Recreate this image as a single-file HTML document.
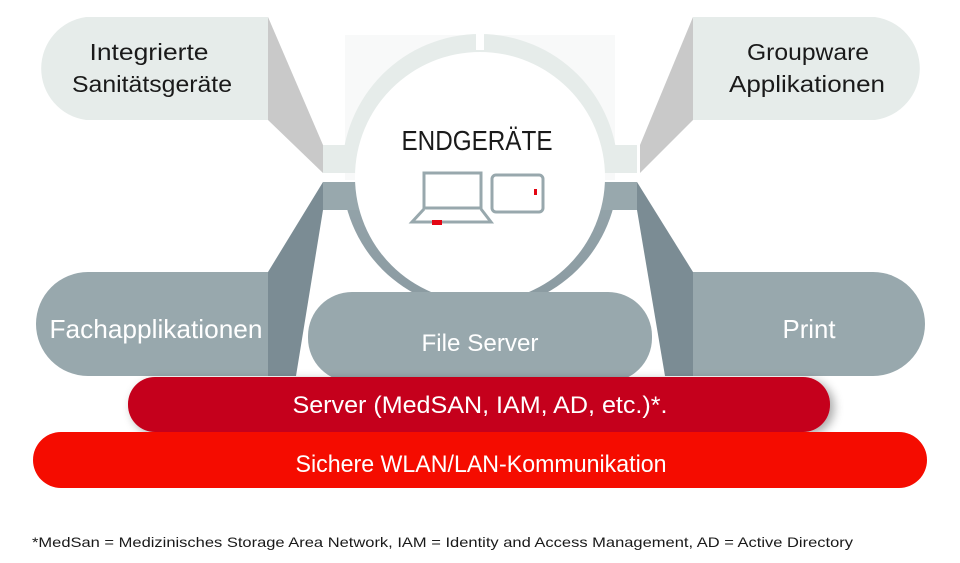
<!DOCTYPE html>
<html><head><meta charset="utf-8"><style>
html,body{margin:0;padding:0;background:#fff;width:960px;height:563px;overflow:hidden}
svg text{font-family:"Liberation Sans",sans-serif}
</style></head><body>
<svg width="960" height="563" viewBox="0 0 960 563" xmlns="http://www.w3.org/2000/svg">
<defs>
<filter id="sh" x="-10%" y="-30%" width="120%" height="160%"><feGaussianBlur in="SourceAlpha" stdDeviation="5"/><feOffset dx="4" dy="3"/><feComponentTransfer><feFuncA type="linear" slope="0.35"/></feComponentTransfer><feMerge><feMergeNode/><feMergeNode in="SourceGraphic"/></feMerge></filter>
<linearGradient id="rg" x1="0" y1="0" x2="0" y2="1"><stop offset="0" stop-color="#a2b0b5"/><stop offset="1" stop-color="#8a9aa1"/></linearGradient>
</defs>
<!-- faint background square -->
<rect x="345" y="35" width="270" height="145" fill="#f8f9f9"/>
<!-- top ring (light) -->
<clipPath id="topc"><rect x="300" y="20" width="360" height="153"/></clipPath>
<clipPath id="botc"><rect x="300" y="182" width="360" height="200"/></clipPath>
<circle cx="480" cy="172" r="138" fill="#e6ecea" clip-path="url(#topc)"/>
<rect x="476" y="30" width="8" height="20" fill="#fff"/>
<!-- top connectors -->
<rect x="323" y="145" width="314" height="28" fill="#e6ecea"/>
<polygon points="268,17 323,145 323,173 268,120" fill="#c9c9c9"/>
<polygon points="693,17 640,145 640,173 693,120" fill="#c9c9c9"/>
<path d="M268,17 H86 A52,52 0 0 0 86,120 H268 Z" fill="#e6ecea"/>
<path d="M693,17 H875 A52,52 0 0 1 875,120 H693 Z" fill="#e6ecea"/>
<!-- lower ring / band -->
<circle cx="480" cy="172" r="138" fill="url(#rg)" clip-path="url(#botc)"/>
<rect x="323" y="182" width="314" height="28" fill="#98a8ad"/>
<polygon points="323,182 323,210 296,376 268,376 268,272" fill="#7b8c94"/>
<polygon points="637,182 637,210 665,376 693,376 693,272" fill="#7b8c94"/>
<!-- inner white circle -->
<circle cx="480" cy="177" r="125" fill="#fff"/>
<text x="477" y="150" font-size="28" text-anchor="middle" fill="#1a1a1a" textLength="151" lengthAdjust="spacingAndGlyphs">ENDGERÄTE</text>
<!-- laptop -->
<rect x="424" y="173" width="57" height="35" fill="none" stroke="#98a8ad" stroke-width="3"/>
<path d="M424,209 L412,222 H491 L481,209" fill="none" stroke="#98a8ad" stroke-width="3"/>
<rect x="432" y="220" width="10" height="5" fill="#e30613"/>
<rect x="492" y="175" width="51" height="37" rx="4" fill="none" stroke="#98a8ad" stroke-width="3"/>
<rect x="534" y="189" width="3" height="6" fill="#e30613"/>
<!-- lower pills -->
<path d="M268,272 H88 A52,52 0 0 0 88,376 H268 Z" fill="#98a8ad"/>
<path d="M693,272 H873 A52,52 0 0 1 873,376 H693 Z" fill="#98a8ad"/>
<rect x="308" y="292" width="344" height="90" rx="44" fill="#98a8ad"/>
<text x="156" y="338" font-size="26" text-anchor="middle" fill="#fff" textLength="213" lengthAdjust="spacingAndGlyphs">Fachapplikationen</text>
<text x="809" y="338" font-size="26" text-anchor="middle" fill="#fff" textLength="53" lengthAdjust="spacingAndGlyphs">Print</text>
<text x="480" y="351" font-size="24" text-anchor="middle" fill="#fff" textLength="117" lengthAdjust="spacingAndGlyphs">File Server</text>
<!-- red bars -->
<rect x="128" y="377" width="702" height="55" rx="27" fill="#c5001b" filter="url(#sh)"/>
<text x="480" y="413" font-size="24" text-anchor="middle" fill="#fff" textLength="375" lengthAdjust="spacingAndGlyphs">Server (MedSAN, IAM, AD, etc.)*.</text>
<rect x="33" y="432" width="894" height="56" rx="28" fill="#f50c00"/>
<text x="481" y="472" font-size="24" text-anchor="middle" fill="#fff" textLength="371" lengthAdjust="spacingAndGlyphs">Sichere WLAN/LAN-Kommunikation</text>
<!-- top bubble text -->
<text x="149" y="60" font-size="23" text-anchor="middle" fill="#1a1a1a" textLength="119" lengthAdjust="spacingAndGlyphs">Integrierte</text>
<text x="152" y="92" font-size="23" text-anchor="middle" fill="#1a1a1a" textLength="160" lengthAdjust="spacingAndGlyphs">Sanitätsgeräte</text>
<text x="808" y="60" font-size="23" text-anchor="middle" fill="#1a1a1a" textLength="122" lengthAdjust="spacingAndGlyphs">Groupware</text>
<text x="807" y="92" font-size="23" text-anchor="middle" fill="#1a1a1a" textLength="156" lengthAdjust="spacingAndGlyphs">Applikationen</text>
<!-- footnote -->
<text x="32" y="547" font-size="14" fill="#1a1a1a" textLength="821" lengthAdjust="spacingAndGlyphs">*MedSan = Medizinisches Storage Area Network, IAM = Identity and Access Management, AD = Active Directory</text>
</svg>
</body></html>
